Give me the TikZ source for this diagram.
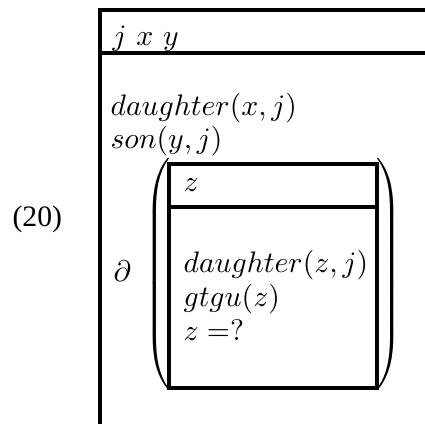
\documentclass[tikz,border=0pt]{standalone}
\usepackage{fontspec}
\newfontfamily\numfont{Liberation Serif}
\tikzset{
  drsline/.style={line width=1.05pt},
  cond/.style={anchor=base west, inner sep=0pt},
  delim/.style={inner sep=0pt}
}
\newcommand{\drsparen}[2]{$\left#1\vrule height 42.4pt depth 37.4pt width 0pt\right#2$}
\begin{document}
\begin{tikzpicture}[x=0.337pt, y=-0.337pt]
\useasboundingbox (0,0) rectangle (425,424);
% Nummer
\node[cond, font=\numfont] (num) at (12,226) {(20)};
% aeussere DRS
\draw[drsline] (425,10) -- (100,10) -- (100,424);
\draw[drsline] (100,53) -- (425,53);
\node[cond] (refs) at (112,45) {$j$ $x$ $y$};
\node[cond] (cond1) at (110,115) {$daughter(x,j)$};
\node[cond] (cond2) at (110,148) {$son(y,j)$};
\node[cond] (partial) at (113,281) {$\partial$};
% eingebettete DRS
\node[delim, anchor=west] (lpar) at (144,274) {\drsparen{(}{.}};
\node[delim, anchor=east] (rpar) at (403,274) {\drsparen{.}{)}};
\draw[drsline] (169,164) rectangle (377,388);
\draw[drsline] (169,207) -- (377,207);
\node[cond] (zref) at (183,191) {$z$};
\node[cond] (cond3) at (183,272) {$daughter(z,j)$};
\node[cond] (cond4) at (183,306) {$gtgu(z)$};
\node[cond] (cond5) at (183,340) {$z=?$};
\end{tikzpicture}
\end{document}
